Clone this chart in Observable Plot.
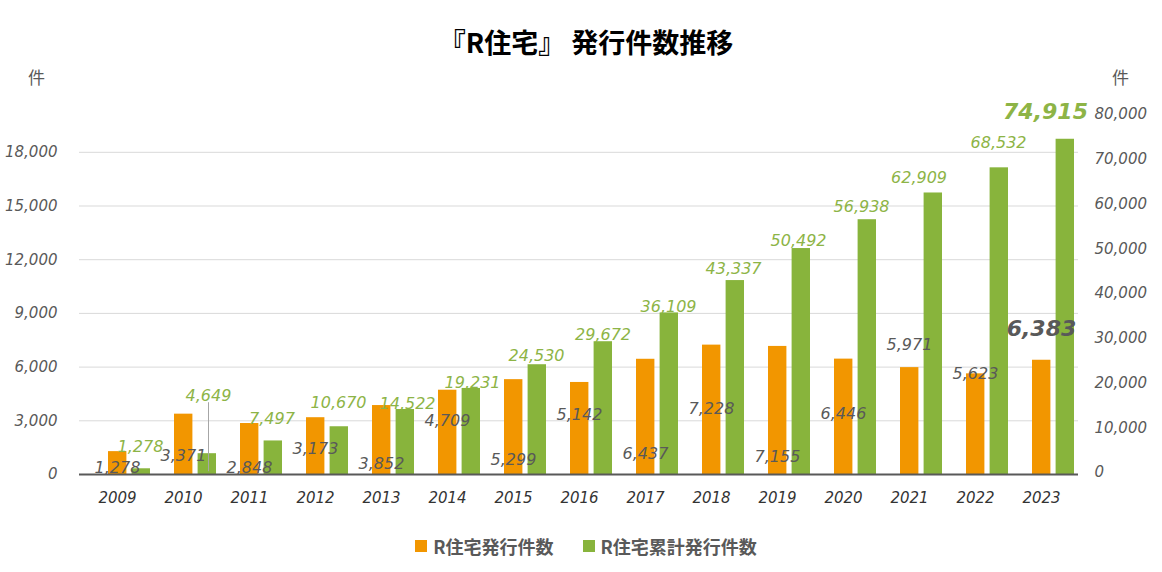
<!DOCTYPE html>
<html>
<head>
<meta charset="utf-8">
<script src="https://cdn.jsdelivr.net/npm/d3@7"></script>
<script src="https://cdn.jsdelivr.net/npm/@observablehq/plot@0.6"></script>
<style>
  html, body { margin: 0; padding: 0; background: #fff; }
  #wrap { width: 1162px; height: 572px; position: relative; overflow: hidden; }
  #title { height: 62px; box-sizing: border-box; padding-top: 26px; text-align: center;
    font: 700 27px/32px "Noto Sans CJK JP", sans-serif; color: #000; padding-left: 10px; }
  #units { height: 30px; position: relative; font: 17px/30px "Noto Sans CJK JP", sans-serif; color: #595959; }
  #units .l { position: absolute; left: 28px; top: 0; }
  #units .r { position: absolute; left: 1112px; top: 0; }
  #legend { height: 48px; display: flex; justify-content: center; align-items: center; gap: 29px;
    font: 700 18px "Noto Sans CJK JP", sans-serif; color: #595959; padding-left: 10px; }
  #legend .item { display: flex; align-items: center; gap: 6px; }
  #legend .sw { width: 12px; height: 12px; display: inline-block; }
  svg { display: block; }
</style>
</head>
<body>
<div id="wrap">
  <div id="title">『R住宅』 発行件数推移</div>
  <div id="units"><span class="l">件</span><span class="r">件</span></div>
  <div id="chart"></div>
  <div id="legend"></div>
</div>
<script>
// ---- data ----
const years = ["2009","2010","2011","2012","2013","2014","2015","2016","2017","2018","2019","2020","2021","2022","2023"];
const annual = [1278, 3371, 2848, 3173, 3852, 4709, 5299, 5142, 6437, 7228, 7155, 6446, 5971, 5623, 6383];
const cumulative = [1278, 4649, 7497, 10670, 14522, 19231, 24530, 29672, 36109, 43337, 50492, 56938, 62909, 68532, 74915];
const leftTicks = [0, 3000, 6000, 9000, 12000, 15000, 18000];
const rightTicks = [0, 10000, 20000, 30000, 40000, 50000, 60000, 70000, 80000];
const seriesNames = ["R住宅発行件数", "R住宅累計発行件数"];

// ---- label placement offsets (px, relative to bar top / band centre) ----
const annualDx = [0,0,0,0,0,0,0,0,0,0,0,0,0,0,0];
const annualDy = [16, 42, 44, 31, 58, 31, 80, 32, 95, 64, 110, 55, -23, 0, -31];
const cumDx = [23, 25, 22.5, 23, 26, 25, 23, 23.5, 23, 22, 21, 18, 9.5, 23, 4];
const cumDy = [-22, -58.2, -22.3, -23.4, -6.1, -5.8, -9, -7.2, -6.5, -11.8, -8, -13.3, -15.5, -24.8, -27];

// ---- styling ----
const ORANGE = "#F29600";
const GREEN = "#88B43C";
const GREEN_TXT = "#8DB446";
const GRAY = "#595959";
const NUMFONT = "DejaVu Sans, Verdana, sans-serif";

const leftMax = 20000;            // left axis top (matches right 80,000)
const ratio = leftMax / 80000;    // right units -> left units
const fmt = d3.format(",");

const data = years.map((y, i) => ({year: y, annual: annual[i], cum: cumulative[i], i}));

const marks = [
  Plot.gridY(leftTicks.filter(v => v > 0), {stroke: "#d9d9d9", strokeOpacity: 1, strokeWidth: 1}),
  Plot.barY(data, {x: "year", y: "annual", fill: ORANGE, insetLeft: 24, insetRight: 23.6}),
  Plot.barY(data, {x: "year", y: d => d.cum * ratio, fill: GREEN, insetLeft: 47.6, insetRight: 0}),
  Plot.ruleY([0], {stroke: GRAY, strokeWidth: 2}),
  Plot.axisY(leftTicks, {anchor: "left", tickSize: 0, tickPadding: 22, tickFormat: fmt, label: null,
    fontSize: 15, fontStyle: "italic", fontFamily: NUMFONT, fill: GRAY}),
  Plot.axisY(rightTicks.map(v => v * ratio), {anchor: "right", tickSize: 0, tickPadding: 16, label: null,
    tickFormat: d => fmt(Math.round(d / ratio)), dy: -2,
    fontSize: 15, fontStyle: "italic", fontFamily: NUMFONT, fill: GRAY}),
  Plot.axisX({tickSize: 0, tickPadding: 18, label: null, fontSize: 15, fontStyle: "italic",
    fontFamily: NUMFONT, fill: "#333"}),
  // leader line for 2010 cumulative label
  Plot.ruleX([data[1]], {x: "year", y1: d => d.cum * ratio, y2: d => d.cum * ratio + 58 * leftMax / 358,
    dx: cumDx[1], insetTop: 18, insetBottom: -7, stroke: "#a6a6a6", strokeWidth: 1})
];

data.forEach((d, i) => {
  const last = i === data.length - 1;
  marks.push(Plot.text([d], {x: "year", y: "annual", text: dd => fmt(dd.annual),
    dx: annualDx[i], dy: annualDy[i], fill: GRAY, fontFamily: NUMFONT, fontStyle: "italic",
    fontWeight: last ? "bold" : "normal", fontSize: last ? 22 : 16}));
  marks.push(Plot.text([d], {x: "year", y: dd => dd.cum * ratio, text: dd => fmt(dd.cum),
    dx: cumDx[i], dy: cumDy[i], fill: GREEN_TXT, fontFamily: NUMFONT, fontStyle: "italic",
    fontWeight: last ? "bold" : "normal", fontSize: last ? 22 : 16}));
});

const chart = Plot.plot({
  width: 1162,
  height: 430,
  marginLeft: 79,
  marginRight: 84,
  marginTop: 24,
  marginBottom: 48,
  x: {type: "band", domain: years, padding: 0},
  y: {domain: [0, leftMax]},
  style: {background: "transparent", overflow: "visible"},
  marks
});
document.getElementById("chart").appendChild(chart);

const colors = [ORANGE, GREEN];
const legend = document.getElementById("legend");
seriesNames.forEach((n, i) => {
  const it = document.createElement("div");
  it.className = "item";
  it.innerHTML = `<span class="sw" style="background:${colors[i]}"></span><span>${n}</span>`;
  legend.appendChild(it);
});
</script>
</body>
</html>
